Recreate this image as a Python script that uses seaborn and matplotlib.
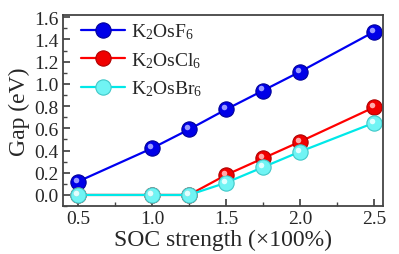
"""Band gap vs SOC strength for K2OsX6 compounds."""

import matplotlib.pyplot as plt
import matplotlib.transforms as mtransforms
import numpy as np
import pandas as pd
import seaborn as sns
from matplotlib.ticker import MultipleLocator

SOC = [0.5, 1.0, 1.25, 1.5, 1.75, 2.0, 2.5]
GAP_F = [0.12, 0.42, 0.59, 0.77, 0.94, 1.11, 1.47]
GAP_CL = [0.0, 0.0, 0.0, 0.18, 0.33, 0.48, 0.79]
GAP_BR = [0.0, 0.0, 0.0, 0.11, 0.25, 0.39, 0.65]
LABELS = [r"K$_2$OsF$_6$", r"K$_2$OsCl$_6$", r"K$_2$OsBr$_6$"]
LINE_COLORS = ["#0000f0", "#ff0000", "#00e8e8"]
FACE_COLORS = ["#0000e8", "#f00000", "#70f4f4"]
EDGE_COLORS = ["#00009a", "#b00000", "#40c8c8"]
HIGHLIGHT = ["#9a9aff", "#ffaaaa", "#e0ffff"]

sns.set_theme(style="ticks")
plt.rcParams["font.family"] = ["Liberation Serif", "DejaVu Serif"]
plt.rcParams["mathtext.fontset"] = "custom"
plt.rcParams["mathtext.rm"] = "Liberation Serif"
plt.rcParams["mathtext.it"] = "Liberation Serif:italic"

df = pd.DataFrame({
    "soc": SOC * 3,
    "gap": GAP_F + GAP_CL + GAP_BR,
    "compound": np.repeat(LABELS, len(SOC)),
})

fig, ax = plt.subplots(figsize=(3.99, 2.55), dpi=100)
sns.lineplot(
    data=df, x="soc", y="gap", hue="compound", hue_order=LABELS,
    palette=LINE_COLORS, marker="o", markersize=11, markeredgewidth=0.8,
    linewidth=1.6, legend=False, ax=ax,
)
for line, fc, ec in zip(ax.lines[:3], FACE_COLORS, EDGE_COLORS):
    line.set_markerfacecolor(fc)
    line.set_markeredgecolor(ec)
handles = list(ax.lines[:3])

# small offset highlight so the markers read as spheres
shift = mtransforms.offset_copy(ax.transData, fig=fig, x=-1.5, y=1.5, units="points")
for lab, hl in zip(LABELS, HIGHLIGHT):
    sub = df[df["compound"] == lab]
    ax.plot(sub["soc"], sub["gap"], "o", ms=4, color=hl, mec="none",
            transform=shift)

ax.set_xlim(0.4, 2.56)
ax.set_ylim(-0.1, 1.62)
ax.xaxis.set_major_locator(MultipleLocator(0.5))
ax.xaxis.set_minor_locator(MultipleLocator(0.25))
ax.yaxis.set_major_locator(MultipleLocator(0.2))
ax.yaxis.set_minor_locator(MultipleLocator(0.1))
ax.tick_params(which="both", direction="in", labelsize=14, color="#444444")
ax.tick_params(which="major", length=5, pad=3)
ax.tick_params(which="minor", length=3)
for sp in ax.spines.values():
    sp.set_color("#444444")
    sp.set_linewidth(1.3)

ax.set_xlabel("SOC strength (×100%)", fontsize=17, labelpad=1)
ax.set_ylabel("Gap (eV)", fontsize=17, labelpad=3)

ax.legend(handles=handles, labels=LABELS, loc="upper left",
          bbox_to_anchor=(0.055, 0.965), frameon=False, fontsize=14,
          handlelength=2.3, borderaxespad=0, borderpad=0,
          labelspacing=0.45, handletextpad=0.3)

fig.subplots_adjust(left=0.158, right=0.96, top=0.937, bottom=0.188)
fig.savefig("out.png", dpi=100)
